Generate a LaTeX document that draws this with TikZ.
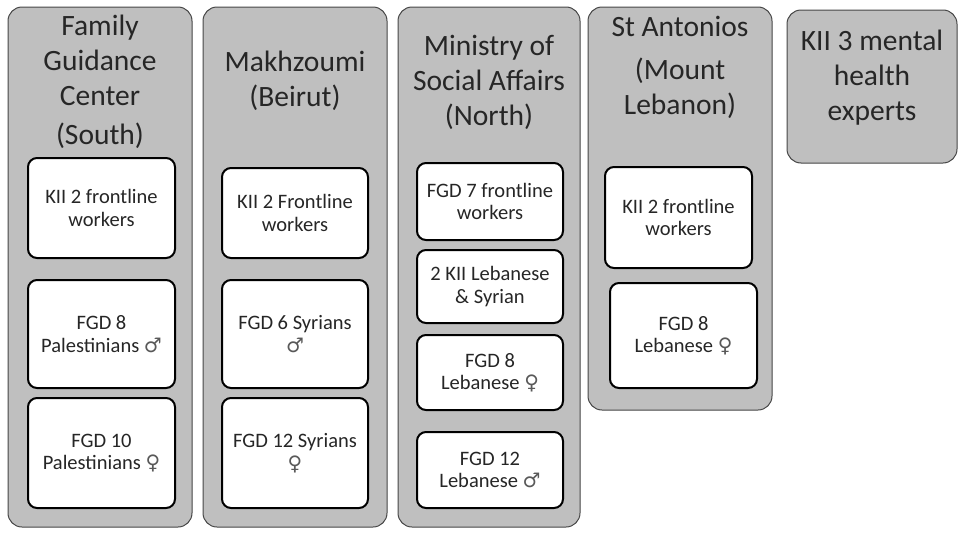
\documentclass[tikz,border=0pt]{standalone}
\usepackage{fontspec}
\setmainfont{Carlito}
\newfontfamily\symfont{DejaVu Sans}
\definecolor{boxgray}{RGB}{191,191,191}
\definecolor{edgegray}{RGB}{70,70,70}
\newcommand{\male}{{\symfont\fontsize{20}{20}\selectfont\color{black!65}♂}}
\newcommand{\female}{{\symfont\fontsize{20}{20}\selectfont\color{black!65}♀}}
\tikzset{
  outerbox/.style={draw=edgegray, line width=1pt, fill=boxgray, rounded corners=14pt, inner sep=0pt},
  innerbox/.style={draw=black, line width=2pt, fill=white, rounded corners=9pt, inner sep=0pt, align=center,
    font=\fontsize{20.5}{22.5}\selectfont, text=black!85},
  titletext/.style={align=center, font=\fontsize{29.5}{35}\selectfont, text=black!85, inner sep=0pt},
}
\begin{document}
\begin{tikzpicture}[x=1pt,y=-1pt]
\useasboundingbox (0,0) rectangle (959,533);
% column 1
\node[outerbox, minimum width=184pt, minimum height=520pt] (o1) at (100,267) {};
\node[titletext] (t1) at (100,82) {Family\\Guidance\\Center\\[4pt](South)};
\node[innerbox, minimum width=147pt, minimum height=100pt] (a1) at (101.5,208) {KII 2 frontline\\workers};
\node[innerbox, minimum width=147pt, minimum height=108pt] (a2) at (101.5,334) {FGD 8\\Palestinians \male};
\node[innerbox, minimum width=147pt, minimum height=110pt] (a3) at (101.5,453) {FGD 10\\Palestinians \female};
% column 2
\node[outerbox, minimum width=184pt, minimum height=520pt] (o2) at (295,267) {};
\node[titletext] (t2) at (295,80.5) {Makhzoumi\\(Beirut)};
\node[innerbox, minimum width=146pt, minimum height=90pt] (b1) at (295,213) {KII 2 Frontline\\workers};
\node[innerbox, minimum width=146pt, minimum height=108pt] (b2) at (295,334) {FGD 6 Syrians\\\male};
\node[innerbox, minimum width=146pt, minimum height=110pt] (b3) at (295,453) {FGD 12 Syrians\\\female};
% column 3
\node[outerbox, minimum width=182pt, minimum height=520pt] (o3) at (489,267) {};
\node[titletext] (t3) at (489,82) {Ministry of\\Social Affairs\\(North)};
\node[innerbox, minimum width=146pt, minimum height=77pt] (c1) at (490,201.5) {FGD 7 frontline\\workers};
\node[innerbox, minimum width=146pt, minimum height=73pt] (c2) at (490,286.5) {2 KII Lebanese\\\& Syrian};
\node[innerbox, minimum width=146pt, minimum height=75pt] (c3) at (490,372.5) {FGD 8\\Lebanese \female};
\node[innerbox, minimum width=146pt, minimum height=76pt] (c4) at (490,470) {FGD 12\\Lebanese \male};
% column 4
\node[outerbox, minimum width=184pt, minimum height=403pt] (o4) at (680,208.5) {};
\node[titletext] (t4) at (680,67) {St Antonios\\[8pt](Mount\\Lebanon)};
\node[innerbox, minimum width=147pt, minimum height=101pt] (d1) at (678.5,217.5) {KII 2 frontline\\workers};
\node[innerbox, minimum width=147pt, minimum height=105pt] (d2) at (683.5,335.5) {FGD 8\\Lebanese \female};
% box 5
\node[outerbox, minimum width=170pt, minimum height=153pt] (o5) at (872,86.5) {};
\node[titletext] (t5) at (872,78) {KII 3 mental\\health\\experts};
\end{tikzpicture}
\end{document}
